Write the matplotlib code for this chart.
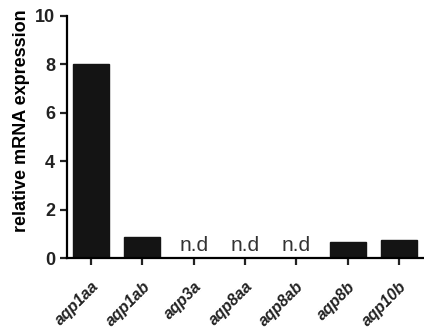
import numpy as np
import matplotlib.pyplot as plt
from matplotlib.transforms import ScaledTranslation

# data
genes = ['aqp1aa', 'aqp1ab', 'aqp3a', 'aqp8aa', 'aqp8ab', 'aqp8b', 'aqp10b']
expression = [8.0, 0.87, 0.0, 0.0, 0.0, 0.66, 0.74]
not_detected = [False, False, True, True, True, False, False]

plt.rcParams['font.family'] = ['Liberation Sans', 'DejaVu Sans']

fig = plt.figure(figsize=(4.24, 3.33), dpi=100)
ax = fig.add_axes([0.158, 0.225, 0.842, 0.727])

x = np.arange(len(genes))
ax.bar(x, expression, width=0.7, color='#141414', edgecolor='#141414')

for xi, nd in zip(x, not_detected):
    if nd:
        ax.text(xi, 0.28, 'n.d', ha='center', va='baseline', fontsize=15, color='#333333')

ax.set_xlim(-0.47, 6.49)
ax.set_ylim(0, 10)
ax.set_yticks([0, 2, 4, 6, 8, 10])
ax.set_xticks(x)
ax.set_xticklabels(genes, rotation=45, ha='right', rotation_mode='anchor',
                   fontstyle='italic', fontweight='bold', fontsize=11.5)
# nudge the rotated labels a little to the right
offset = ScaledTranslation(0.05, 0, fig.dpi_scale_trans)
for lab in ax.get_xticklabels():
    lab.set_transform(lab.get_transform() + offset)
for lab in ax.get_yticklabels():
    lab.set_fontweight('bold')
    lab.set_fontsize(13)

ax.set_ylabel('relative mRNA expression', fontsize=13, fontweight='bold')
ax.yaxis.set_label_coords(-0.105, 0.566)

ax.spines['top'].set_visible(False)
ax.spines['right'].set_visible(False)
ax.spines['left'].set_linewidth(1.6)
ax.spines['bottom'].set_linewidth(1.6)
ax.tick_params(axis='both', direction='out', length=5, width=1.6, colors='#222222')
ax.tick_params(axis='x', pad=10)

plt.savefig('out.png', dpi=100)
plt.close()
